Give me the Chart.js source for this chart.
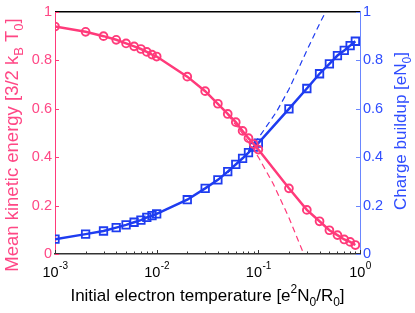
<!DOCTYPE html>
<html>
<head>
<meta charset="utf-8">
<script src="https://cdn.jsdelivr.net/npm/chart.js@4.4.0/dist/chart.umd.min.js"></script>
<style>
html, body { margin: 0; padding: 0; background: #fff; }
#wrap { width: 415px; height: 313px; }
</style>
</head>
<body>
<div id="wrap"><canvas id="myChart" width="415" height="313"></canvas></div>
<script>
// data
var temps = [0.001, 0.002, 0.003, 0.004, 0.005, 0.006, 0.007, 0.008, 0.009,
             0.01, 0.02, 0.03, 0.04, 0.05, 0.06, 0.07, 0.08, 0.09,
             0.1, 0.2, 0.3, 0.4, 0.5, 0.6, 0.7, 0.8, 0.9];
var energy = [0.939, 0.917, 0.899, 0.884, 0.869, 0.857, 0.846, 0.834, 0.823,
              0.815, 0.732, 0.672, 0.620, 0.578, 0.544, 0.508, 0.478, 0.454,
              0.431, 0.271, 0.182, 0.135, 0.098, 0.078, 0.060, 0.050, 0.037];
var charge = [0.061, 0.082, 0.095, 0.109, 0.120, 0.131, 0.140, 0.151, 0.158,
              0.166, 0.224, 0.271, 0.306, 0.340, 0.370, 0.395, 0.418, 0.441,
              0.458, 0.599, 0.683, 0.744, 0.785, 0.819, 0.840, 0.860, 0.878];

// dashed asymptotes
var energyFitT = [0.05, 0.07, 0.1, 0.14, 0.2, 0.25, 0.28];
var energyFit = [0.575, 0.497, 0.40, 0.29, 0.15, 0.05, 0.0];
var chargeFitT = [0.05, 0.07, 0.1, 0.15, 0.2, 0.3, 0.4, 0.46];
var chargeFit = [0.335, 0.395, 0.478, 0.585, 0.68, 0.84, 0.95, 1.0];

// tick labels
var xDecades = [0.001, 0.01, 0.1, 1];
var xExponents = ['-3', '-2', '-1', '0'];

var pink = '#ff3a7a';
var pinkText = '#ff4785';
var blue = '#1e3cf0';
var blueText = '#2f4dff';
var blueAxis = '#6a86ff';
var FONT = '"Liberation Sans", Arial, sans-serif';

function pairs(xs, ys) {
    return xs.map(function (x, i) { return { x: x, y: ys[i] }; });
}

// draw text with sub/superscripts, centered on x
function drawRich(ctx, parts, x, y, size, color) {
    var small = Math.round(size * 0.72);
    var total = 0;
    parts.forEach(function (p) {
        ctx.font = (p.sub || p.sup ? small : size) + 'px ' + FONT;
        p.w = ctx.measureText(p.t).width;
        total += p.w;
    });
    var cx = x - total / 2;
    ctx.fillStyle = color;
    ctx.textAlign = 'left';
    ctx.textBaseline = 'alphabetic';
    parts.forEach(function (p) {
        ctx.font = (p.sub || p.sup ? small : size) + 'px ' + FONT;
        var dy = p.sub ? size * 0.3 : (p.sup ? -size * 0.42 : 0);
        ctx.fillText(p.t, cx, y + dy);
        cx += p.w;
    });
}

var axisDecor = {
    id: 'axisDecor',
    afterDraw: function (chart) {
        var ctx = chart.ctx, a = chart.chartArea;
        var xs = chart.scales.x, yl = chart.scales.y, yr = chart.scales.y1;
        ctx.save();

        // top box line
        ctx.strokeStyle = '#000';
        ctx.lineWidth = 1.5;
        ctx.beginPath();
        ctx.moveTo(a.left, a.top);
        ctx.lineTo(a.right, a.top);
        ctx.stroke();

        // x ticks, pointing inward
        ctx.strokeStyle = '#333';
        ctx.lineWidth = 1;
        xDecades.forEach(function (d, i) {
            for (var k = 1; k < 10; k++) {
                var v = d * k;
                if (v > 1.0001) break;
                var px = Math.round(xs.getPixelForValue(v)) + 0.5;
                var len = k === 1 ? 4 : 2.5;
                ctx.beginPath();
                ctx.moveTo(px, a.bottom);
                ctx.lineTo(px, a.bottom - len);
                ctx.stroke();
            }
        });

        // y ticks, pointing inward
        yl.ticks.forEach(function (t) {
            var py = Math.round(yl.getPixelForValue(t.value)) + 0.5;
            ctx.strokeStyle = pink;
            ctx.beginPath();
            ctx.moveTo(a.left, py);
            ctx.lineTo(a.left + 4, py);
            ctx.stroke();
            ctx.strokeStyle = blueAxis;
            ctx.beginPath();
            ctx.moveTo(a.right, py);
            ctx.lineTo(a.right - 4, py);
            ctx.stroke();
        });

        // x tick labels 10^n
        ctx.fillStyle = '#000';
        ctx.textBaseline = 'alphabetic';
        ctx.textAlign = 'left';
        xDecades.forEach(function (d, i) {
            var px = xs.getPixelForValue(d);
            ctx.font = '14.5px ' + FONT;
            var w1 = ctx.measureText('10').width;
            ctx.font = '10px ' + FONT;
            var w2 = ctx.measureText(xExponents[i]).width;
            var start = px - (w1 + w2) / 2;
            ctx.font = '14.5px ' + FONT;
            ctx.fillText('10', start, 276.5);
            ctx.font = '10px ' + FONT;
            ctx.fillText(xExponents[i], start + w1 + 0.5, 268.5);
        });

        // axis titles
        drawRich(ctx, [
            { t: 'Initial electron temperature [e' }, { t: '2', sup: true },
            { t: 'N' }, { t: '0', sub: true }, { t: '/R' }, { t: '0', sub: true }, { t: ']' }
        ], (a.left + a.right) / 2, 300.5, 17, '#000');

        ctx.save();
        ctx.translate(17.5, 145);
        ctx.rotate(-Math.PI / 2);
        drawRich(ctx, [
            { t: 'Mean kinetic energy [3/2 k' }, { t: 'B', sub: true },
            { t: ' T' }, { t: '0', sub: true }, { t: ']' }
        ], 0, 0, 18.5, pinkText);
        ctx.restore();

        ctx.save();
        ctx.translate(406, 131);
        ctx.rotate(-Math.PI / 2);
        drawRich(ctx, [
            { t: 'Charge buildup [eN' }, { t: '0', sub: true }, { t: ']' }
        ], 0, 0, 17, blueText);
        ctx.restore();

        ctx.restore();
    }
};

function yLabel(v) {
    var r = Math.round(v * 10) / 10;
    return String(r);
}

new Chart(document.querySelector('#myChart'), {
    type: 'line',
    data: {
        datasets: [
            {
                label: 'energy',
                data: pairs(temps, energy),
                yAxisID: 'y',
                borderColor: pink,
                borderWidth: 2.5,
                pointStyle: 'circle',
                pointRadius: 3.9,
                pointBorderWidth: 1.9,
                pointBorderColor: pink,
                pointBackgroundColor: 'rgba(0,0,0,0)',
                fill: false,
                tension: 0
            },
            {
                label: 'charge',
                data: pairs(temps, charge),
                yAxisID: 'y1',
                borderColor: blue,
                borderWidth: 2.5,
                pointStyle: 'rect',
                pointRadius: 5.3,
                pointBorderWidth: 1.8,
                pointBorderColor: blue,
                pointBackgroundColor: 'rgba(0,0,0,0)',
                fill: false,
                tension: 0
            },
            {
                label: 'energy fit',
                data: pairs(energyFitT, energyFit),
                yAxisID: 'y',
                borderColor: pink,
                borderWidth: 1.2,
                borderDash: [6, 4],
                pointRadius: 0,
                fill: false
            },
            {
                label: 'charge fit',
                data: pairs(chargeFitT, chargeFit),
                yAxisID: 'y1',
                borderColor: blue,
                borderWidth: 1.2,
                borderDash: [6, 4],
                pointRadius: 0,
                fill: false
            }
        ]
    },
    options: {
        responsive: false,
        animation: false,
        devicePixelRatio: 1,
        layout: { padding: { top: 9 } },
        plugins: { legend: { display: false }, tooltip: { enabled: false } },
        scales: {
            x: {
                type: 'logarithmic',
                min: 0.001,
                max: 1,
                grid: { display: false, drawTicks: false },
                border: { color: '#333', width: 1.5 },
                ticks: { display: false },
                afterFit: function (s) { s.height = 59; }
            },
            y: {
                position: 'left',
                min: 0,
                max: 1,
                grid: { display: false, drawTicks: false },
                border: { color: pink, width: 1 },
                ticks: {
                    stepSize: 0.2,
                    color: pinkText,
                    padding: 3,
                    font: { family: FONT, size: 14.5 },
                    callback: yLabel
                },
                afterFit: function (s) { s.width = 55; }
            },
            y1: {
                position: 'right',
                min: 0,
                max: 1,
                grid: { display: false, drawTicks: false },
                border: { color: blueAxis, width: 1 },
                ticks: {
                    stepSize: 0.2,
                    color: blueText,
                    padding: 3,
                    font: { family: FONT, size: 14.5 },
                    callback: yLabel
                },
                afterFit: function (s) { s.width = 55; }
            }
        }
    },
    plugins: [axisDecor]
});
</script>
</body>
</html>
